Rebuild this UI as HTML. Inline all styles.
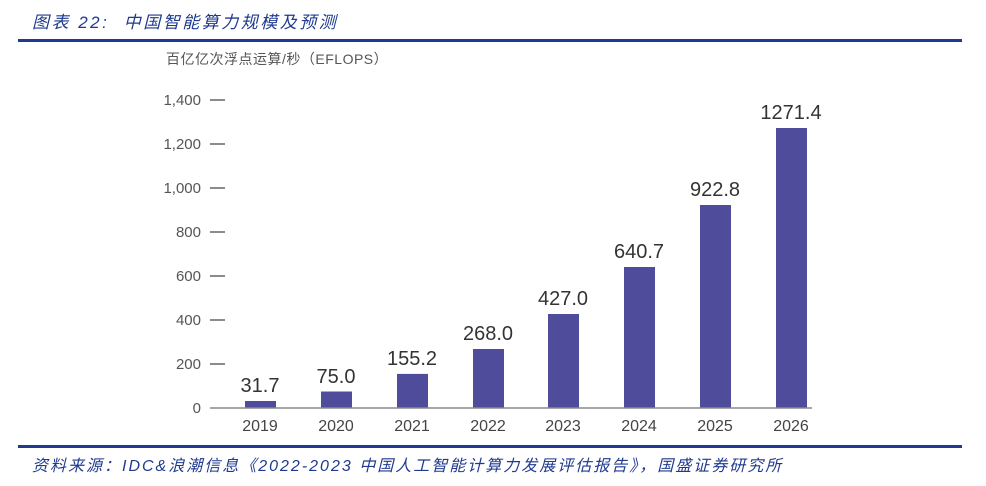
<!DOCTYPE html>
<html><head><meta charset="utf-8"><style>
body{margin:0;width:986px;height:486px;background:#fff;overflow:hidden;position:relative;font-family:"Liberation Sans","Noto Sans CJK SC",sans-serif}
.t{position:absolute;color:#1f3a8f;font-style:italic;font-size:16px;white-space:nowrap}
.rule{position:absolute;left:18px;width:944px;height:3px;background:#1f3a93}
</style></head><body>
<div class="t" style="left:32px;top:8px;font-size:17px;letter-spacing:2.5px">图表 22:&nbsp; 中国智能算力规模及预测</div>
<div class="rule" style="top:39px"></div>
<svg style="position:absolute;left:0;top:0" width="986" height="486" font-family="Liberation Sans, Noto Sans CJK SC, sans-serif">
<text x="166" y="64" font-size="14" fill="#555" letter-spacing="0.5">百亿亿次浮点运算/秒（EFLOPS）</text>
<g font-size="15" fill="#555" text-anchor="end">
<text x="201" y="105">1,400</text><text x="201" y="149">1,200</text><text x="201" y="193">1,000</text>
<text x="201" y="237">800</text><text x="201" y="281">600</text><text x="201" y="325">400</text>
<text x="201" y="369">200</text><text x="201" y="413">0</text>
</g>
<g stroke="#666" stroke-width="1.5">
<line x1="210" x2="225" y1="100" y2="100"/><line x1="210" x2="225" y1="144" y2="144"/><line x1="210" x2="225" y1="188" y2="188"/>
<line x1="210" x2="225" y1="232" y2="232"/><line x1="210" x2="225" y1="276" y2="276"/><line x1="210" x2="225" y1="320" y2="320"/>
<line x1="210" x2="225" y1="364" y2="364"/>
</g>
<g fill="#504c9c">
<rect x="245" y="401" width="31" height="7"/>
<rect x="321" y="391.5" width="31" height="16.5"/>
<rect x="397" y="373.9" width="31" height="34.1"/>
<rect x="473" y="349" width="31" height="59"/>
<rect x="548" y="314" width="31" height="94"/>
<rect x="624" y="267" width="31" height="141"/>
<rect x="700" y="205" width="31" height="203"/>
<rect x="776" y="128" width="31" height="280"/>
</g>
<line x1="210" x2="812" y1="408" y2="408" stroke="#888" stroke-width="1.5"/>
<g font-size="20" fill="#333" text-anchor="middle">
<text x="260" y="392">31.7</text><text x="336" y="383">75.0</text><text x="412" y="365">155.2</text>
<text x="488" y="340">268.0</text><text x="563" y="305">427.0</text><text x="639" y="258">640.7</text>
<text x="715" y="196">922.8</text><text x="791" y="119">1271.4</text>
</g>
<g font-size="16" fill="#444" text-anchor="middle">
<text x="260" y="431">2019</text><text x="336" y="431">2020</text><text x="412" y="431">2021</text>
<text x="488" y="431">2022</text><text x="563" y="431">2023</text><text x="639" y="431">2024</text>
<text x="715" y="431">2025</text><text x="791" y="431">2026</text>
</g>
</svg>
<div class="rule" style="top:445px"></div>
<div class="t" style="left:32px;top:452px;letter-spacing:2px">资料来源：IDC&amp;浪潮信息《2022-2023 中国人工智能计算力发展评估报告》，国盛证券研究所</div>
</body></html>
